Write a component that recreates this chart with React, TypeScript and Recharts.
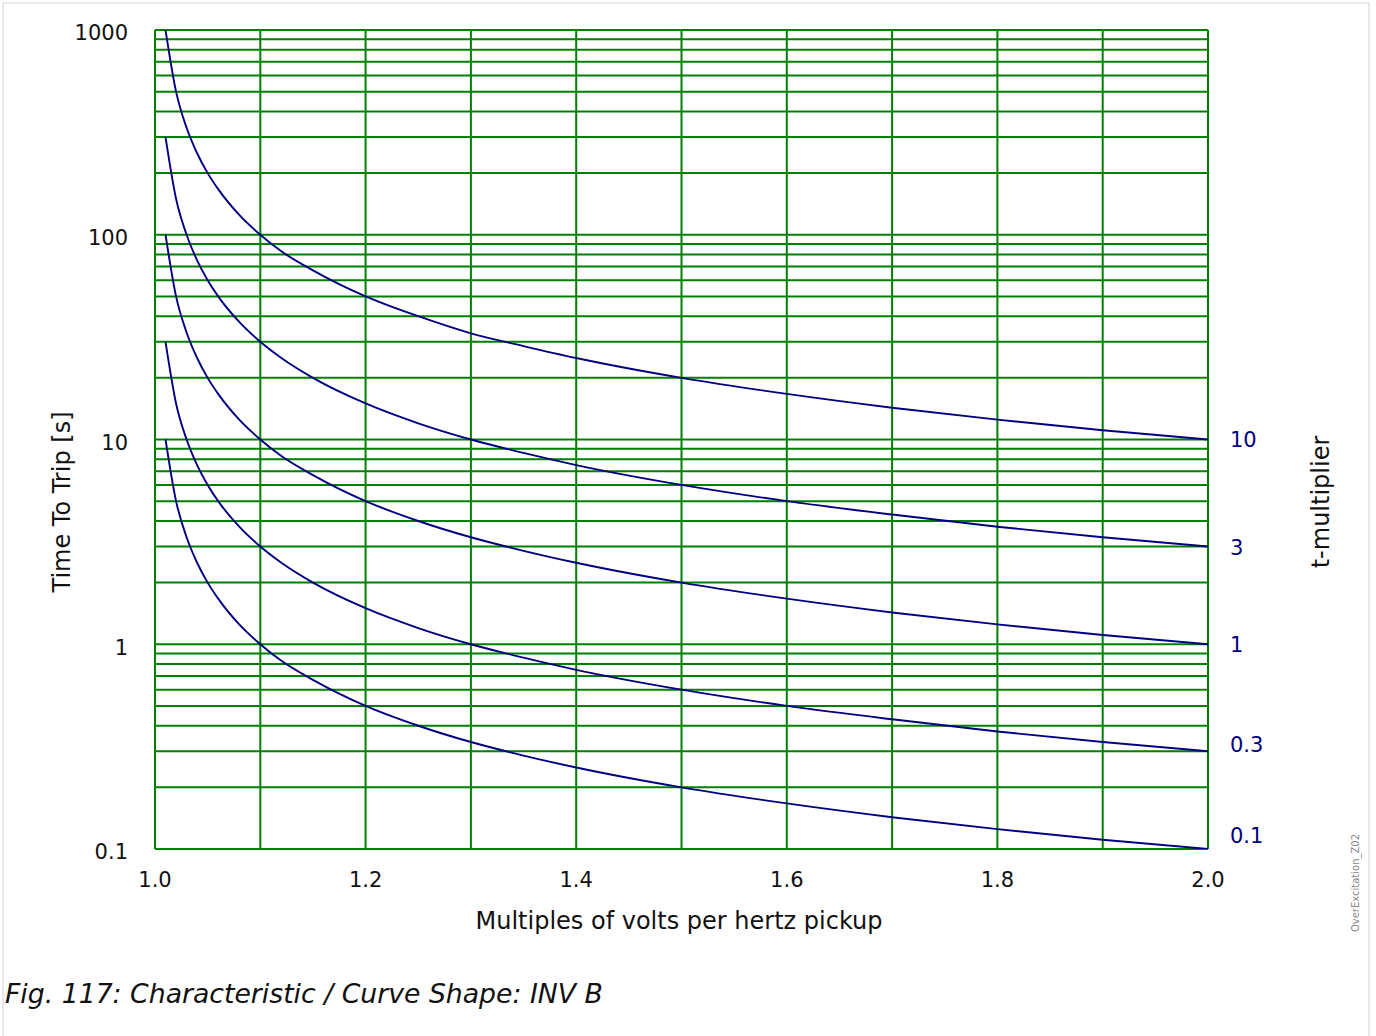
import React from 'react';
import { LineChart, Line, XAxis, YAxis, CartesianGrid } from 'recharts';

// Multiples of V/Hz pickup (x positions of read points)
const multiples = [1.01, 1.02, 1.03, 1.04, 1.05, 1.06, 1.08, 1.1, 1.12, 1.15, 1.2, 1.25, 1.3, 1.35, 1.4, 1.5, 1.6, 1.7, 1.8, 1.9, 2.0];

// Time to trip [s]
const curve10 = [1000, 500, 333, 250, 200, 167, 125, 100, 83, 67, 50, 40, 33, 28.6, 25, 20, 16.7, 14.3, 12.5, 11.1, 10];
const curve3 = [300, 150, 100, 75, 60, 50, 37.5, 30, 25, 20, 15, 12, 10, 8.6, 7.5, 6, 5, 4.3, 3.75, 3.33, 3];
const curve1 = [100, 50, 33.3, 25, 20, 16.7, 12.5, 10, 8.3, 6.7, 5, 4, 3.33, 2.86, 2.5, 2, 1.67, 1.43, 1.25, 1.11, 1];
const curve03 = [30, 15, 10, 7.5, 6, 5, 3.75, 3, 2.5, 2, 1.5, 1.2, 1, 0.86, 0.75, 0.6, 0.5, 0.43, 0.375, 0.333, 0.3];
const curve01 = [10, 5, 3.33, 2.5, 2, 1.67, 1.25, 1, 0.83, 0.67, 0.5, 0.4, 0.333, 0.286, 0.25, 0.2, 0.167, 0.143, 0.125, 0.111, 0.1];

const seriesKeys = ['k10', 'k3', 'k1', 'k03', 'k01'];
const seriesLabels = ['10', '3', '1', '0.3', '0.1'];
const seriesValues = [curve10, curve3, curve1, curve03, curve01];
const labelShift = [0, 1, 0, -7, -14];

const xTicks = [1.0, 1.1, 1.2, 1.3, 1.4, 1.5, 1.6, 1.7, 1.8, 1.9, 2.0];
const xTickLabels = ['1.0', '', '1.2', '', '1.4', '', '1.6', '', '1.8', '', '2.0'];
const yTicks = [
  0.1, 0.2, 0.3, 0.4, 0.5, 0.6, 0.7, 0.8, 0.9,
  1, 2, 3, 4, 5, 6, 7, 8, 9,
  10, 20, 30, 40, 50, 60, 70, 80, 90,
  100, 200, 300, 400, 500, 600, 700, 800, 900,
  1000,
];
const yTickLabels: Record<string, string> = { '0.1': '0.1', '1': '1', '10': '10', '100': '100', '1000': '1000' };

const data = multiples.map((m, i) => {
  const row: Record<string, number> = { x: m };
  seriesKeys.forEach((k, j) => {
    row[k] = seriesValues[j][i];
  });
  return row;
});

const GREEN = '#008000';
const NAVY = '#000080';
const FONT = '"DejaVu Sans", Verdana, sans-serif';

const makeEndLabel = (text: string, shift: number) => (props: any) => {
  const { x, y, index } = props;
  if (index !== multiples.length - 1) return <g />;
  return (
    <text x={x + 22} y={y + shift} dy="0.36em" fill={NAVY} fontSize={21} fontFamily={FONT}>
      {text}
    </text>
  );
};

export default function App() {
  return (
    <div style={{ position: 'absolute', left: 0, top: 0, width: 1376, height: 1036, background: '#fff', overflow: 'hidden' }}>
      <div style={{ position: 'absolute', left: 2, top: 2, width: 1368, height: 1060, border: '2px solid #e8e8e8', boxSizing: 'border-box' }} />
      <div style={{ position: 'absolute', left: 0, top: 0 }}>
        <LineChart width={1376} height={1036} data={data} margin={{ top: 30, right: 168, bottom: 157, left: 95 }}>
          <CartesianGrid stroke={GREEN} strokeWidth={2} strokeOpacity={1} />
          <XAxis
            dataKey="x"
            type="number"
            domain={[1, 2]}
            ticks={xTicks}
            tickFormatter={(v: number) => xTickLabels[xTicks.findIndex((t) => Math.abs(t - v) < 1e-9)] ?? ''}
            tickLine={false}
            axisLine={false}
            tickSize={0}
            tickMargin={23}
            height={30}
            interval={0}
            tick={{ fill: '#111', fontSize: 21, fontFamily: FONT }}
          />
          <YAxis
            scale="log"
            domain={[0.1, 1000]}
            ticks={yTicks}
            tickFormatter={(v: number) => yTickLabels[String(v)] ?? ''}
            tickLine={false}
            axisLine={false}
            tickSize={0}
            tickMargin={27}
            width={60}
            interval={0}
            allowDataOverflow
            tick={{ fill: '#111', fontSize: 21, fontFamily: FONT, dy: 3 }}
          />
          {seriesKeys.map((k, j) => (
            <Line
              key={k}
              dataKey={k}
              type="monotone"
              stroke={NAVY}
              strokeWidth={1.9}
              dot={false}
              isAnimationActive={false}
              label={makeEndLabel(seriesLabels[j], labelShift[j])}
            />
          ))}
        </LineChart>
      </div>
      <svg width={1376} height={1036} style={{ position: 'absolute', left: 0, top: 0, pointerEvents: 'none' }}>
        <text x={61} y={502} transform="rotate(-90 61 502)" textAnchor="middle" dy="0.36em" fontSize={24} fontFamily={FONT} fill="#111">
          Time To Trip [s]
        </text>
        <text x={1320} y={502} transform="rotate(-90 1320 502)" textAnchor="middle" dy="0.36em" fontSize={24} fontFamily={FONT} fill="#111">
          t-multiplier
        </text>
        <text x={679} y={920} textAnchor="middle" dy="0.36em" fontSize={24} fontFamily={FONT} fill="#111">
          Multiples of volts per hertz pickup
        </text>
        <text x={1355} y={883} transform="rotate(-90 1355 883)" textAnchor="middle" dy="0.36em" fontSize={10} fontFamily={FONT} fill="#888">
          OverExcitation_Z02
        </text>
        <text x={5} y={1003} fontSize={26.7} fontStyle="italic" fontFamily={FONT} fill="#111">
          Fig. 117: Characteristic / Curve Shape: INV B
        </text>
      </svg>
    </div>
  );
}
